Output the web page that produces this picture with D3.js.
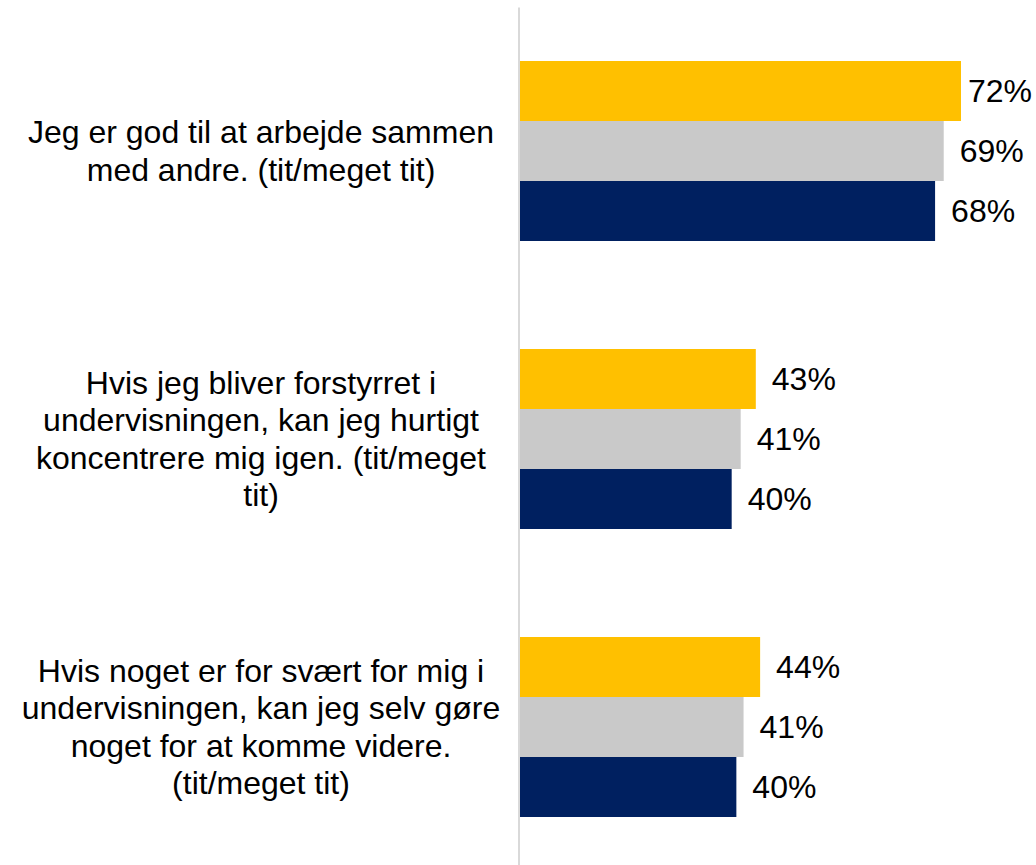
<!DOCTYPE html>
<html>
<head>
<meta charset="utf-8">
<script src="https://cdn.jsdelivr.net/npm/d3@7"></script>
<style>
    body { margin: 0; background: #fff; }
    text { font-family: "Liberation Sans", Arial, sans-serif; fill: #000; }
</style>
</head>
<body>
<div id="chart"></div>
<script>
// categories (line breaks as in the picture)
let categories = [
    ["Jeg er god til at arbejde sammen", "med andre. (tit/meget tit)"],
    ["Hvis jeg bliver forstyrret i", "undervisningen, kan jeg hurtigt", "koncentrere mig igen. (tit/meget", "tit)"],
    ["Hvis noget er for svært for mig i", "undervisningen, kan jeg selv gøre", "noget for at komme videre.", "(tit/meget tit)"]
];
let series = ["s1", "s2", "s3"];
let colors = ["#FFC000", "#C9C9C9", "#002060"];
// percent values (labels are rounded)
let s1Values = [71.6, 43.1, 43.7];
let s2Values = [69.2, 41.0, 41.4];
let s3Values = [68.0, 39.75, 40.4];

let values = [s1Values, s2Values, s3Values];
let data = [];
categories.forEach((c, i) => {
    series.forEach((s, j) => {
        data.push({cat: i, series: s, idx: j, value: values[j][i]});
    });
});

let width = 1036, height = 865;
let svg = d3.select("#chart").append("svg")
    .attr("width", width)
    .attr("height", height);

let y = d3.scaleBand()
    .domain(d3.range(categories.length))
    .range([7, 871])
    .paddingInner(0.375)
    .paddingOuter(0.1875);

let ySub = d3.scaleBand()
    .domain(series)
    .range([0, y.bandwidth()]);

let x = d3.scaleLinear()
    .domain([10.35, 80])
    .range([520, 520 + 69.65 * 7.2]);

// bars
svg.selectAll("rect.bar")
    .data(data)
    .enter().append("rect")
    .attr("class", "bar")
    .attr("x", x(x.domain()[0]))
    .attr("y", d => y(d.cat) + ySub(d.series))
    .attr("width", d => x(d.value) - x(x.domain()[0]))
    .attr("height", ySub.bandwidth())
    .attr("fill", d => colors[d.idx]);

// vertical axis line
let axis = svg.append("g")
    .attr("transform", "translate(518.5,0)")
    .call(d3.axisLeft(y).tickSize(0).tickFormat(""));
axis.select(".domain").attr("stroke", "#D9D9D9").attr("stroke-width", 2);

// value labels
let fmt = d3.format(".0f");
svg.selectAll("text.val")
    .data(data)
    .enter().append("text")
    .attr("class", "val")
    .attr("y", d => y(d.cat) + ySub(d.series) + ySub.bandwidth() / 2)
    .attr("dy", "0.35em")
    .style("font-size", "32px")
    .text(d => fmt(d.value) + "%")
    .attr("x", function(d) {
        let w = this.getComputedTextLength();
        let px = x(d.value) + 16;
        return Math.min(px, 1032 - w);
    });

// category labels
let lineH = 37.5;
let lab = svg.selectAll("text.cat")
    .data(categories)
    .enter().append("text")
    .attr("class", "cat")
    .attr("text-anchor", "middle")
    .style("font-size", "32px")
    .attr("transform", (d, i) => "translate(261," + (y(i) + y.bandwidth() / 2) + ")");

lab.selectAll("tspan")
    .data(d => d.map((t, k) => ({t, k, n: d.length})))
    .enter().append("tspan")
    .attr("x", 0)
    .attr("y", d => (d.k - (d.n - 1) / 2) * lineH)
    .attr("dy", "0.35em")
    .text(d => d.t);
</script>
</body>
</html>
